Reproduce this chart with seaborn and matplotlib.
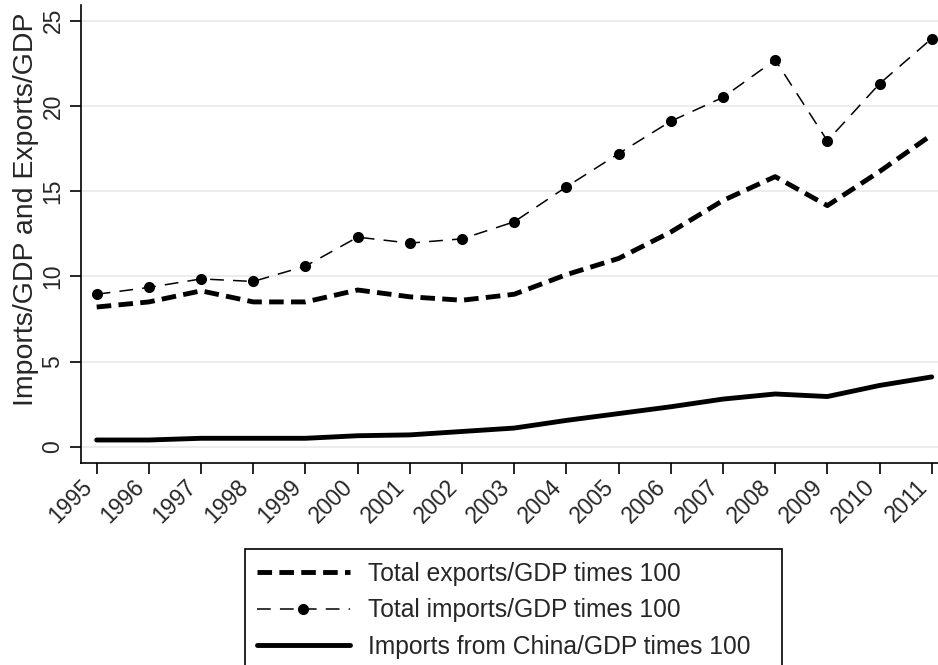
import matplotlib

matplotlib.use("Agg")
import matplotlib.pyplot as plt
import pandas as pd
import seaborn as sns
from matplotlib.patches import Rectangle

years = list(range(1995, 2012))
exports = [8.2, 8.5, 9.15, 8.5, 8.5, 9.2, 8.8, 8.6, 8.95, 10.1, 11.05, 12.6, 14.45, 15.85, 14.15, 16.15, 18.3]
imports = [8.95, 9.35, 9.85, 9.7, 10.6, 12.3, 11.95, 12.2, 13.2, 15.25, 17.2, 19.1, 20.5, 22.7, 17.95, 21.3, 23.95]
china = [0.4, 0.4, 0.5, 0.5, 0.5, 0.65, 0.7, 0.9, 1.1, 1.55, 1.95, 2.35, 2.8, 3.1, 2.95, 3.6, 4.1]

labels = [
    "Total exports/GDP times 100",
    "Total imports/GDP times 100",
    "Imports from China/GDP times 100",
]

df = pd.DataFrame({"year": years, "exports": exports, "imports": imports, "china": china})

sns.set_style("white")
plt.rcParams["font.family"] = ["Liberation Sans", "DejaVu Sans"]

fig = plt.figure(figsize=(9.38, 6.65), dpi=100)
ax = fig.add_axes([0.0864, 0.304, 0.9136, 0.688])

sns.lineplot(data=df, x="year", y="exports", ax=ax, color="black",
             linewidth=3.5, linestyle=(0, (3.0, 1.5)), label=labels[0])
sns.lineplot(data=df, x="year", y="imports", ax=ax, color="black",
             linewidth=1.1, linestyle=(0, (9, 6)), marker="o", markersize=8,
             markeredgewidth=0, label=labels[1])
sns.lineplot(data=df, x="year", y="china", ax=ax, color="black",
             linewidth=3.5, label=labels[2])

ax.set_xlim(1994.7, 2011.12)
ax.set_ylim(-0.94, 25.9)
ax.set_xticks(years)
ax.set_xticklabels([str(y) for y in years], rotation=45, ha="right", fontsize=16.5)
ax.set_yticks([0, 5, 10, 15, 20, 25])
ax.set_yticklabels(["0", "5", "10", "15", "20", "25"], rotation=90,
                   va="center", fontsize=16.5)
ax.tick_params(axis="both", direction="out", length=8, width=1.2,
               color="black", left=True, bottom=True, pad=4)
ax.tick_params(axis="x", pad=1)
ax.set_xlabel("")
ax.set_ylabel("Imports/GDP and Exports/GDP", fontsize=20.5)
ax.yaxis.set_label_coords(-0.0495, 0.555)
ax.grid(axis="y", color="#ebebeb", linewidth=1.3)
ax.grid(axis="x", visible=False)
for side in ["top", "right"]:
    ax.spines[side].set_visible(False)
for side in ["left", "bottom"]:
    ax.spines[side].set_color("black")
    ax.spines[side].set_linewidth(1.2)

handles, lbls = ax.get_legend_handles_labels()
ax.get_legend().remove()
fig.legend(handles, lbls, loc="upper left", bbox_to_anchor=(257 / 938, 0.155),
           fontsize=17.7, frameon=False, handlelength=3.78, borderpad=0,
           borderaxespad=0, labelspacing=0.5, handletextpad=0.73)
# Stata-style legend box, wider than its contents
fig.add_artist(Rectangle((245 / 938, -0.01), 537 / 938, 1 - 549 / 665 + 0.01,
                         transform=fig.transFigure, fill=False,
                         edgecolor="black", linewidth=1.2))

fig.savefig("out.png", dpi=100)
